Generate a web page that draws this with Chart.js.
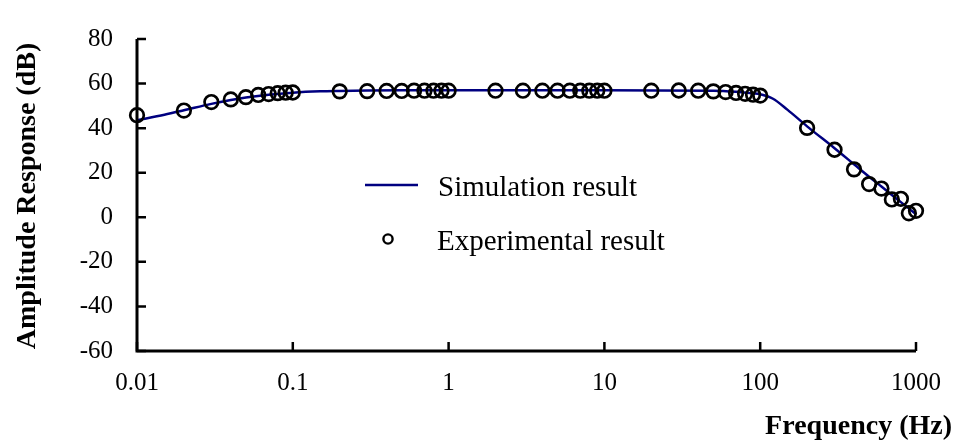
<!DOCTYPE html>
<html>
<head>
<meta charset="utf-8">
<script src="https://cdn.jsdelivr.net/npm/chart.js@4"></script>
<style>
  html, body { margin: 0; padding: 0; background: #ffffff; }
  #wrap { width: 958px; height: 444px; }
</style>
</head>
<body>
<div id="wrap"><canvas id="c" width="958" height="444"></canvas></div>
<script>
// Frequency response of the amplifier: simulated curve and measured points
const simFreq = [0.01, 0.015, 0.02, 0.03, 0.04, 0.05, 0.07, 0.1, 0.15, 0.2, 0.3, 0.5, 1, 10, 50, 70, 90, 100, 120, 150, 200, 300, 400, 500, 600, 700, 800, 900, 1000];
const simDb   = [43.5, 46.0, 48.0, 50.9, 52.6, 53.7, 55.0, 55.9, 56.5, 56.7, 56.9, 57.0, 57.0, 57.0, 56.8, 56.3, 55.6, 55.2, 53.3, 48.2, 40.8, 31.0, 23.8, 18.2, 13.8, 10.0, 6.8, 4.0, 1.3];

const expFreq = [0.01, 0.02, 0.03, 0.04, 0.05, 0.06, 0.07, 0.08, 0.09, 0.1,
                 0.2, 0.3, 0.4, 0.5, 0.6, 0.7, 0.8, 0.9, 1,
                 2, 3, 4, 5, 6, 7, 8, 9, 10,
                 20, 30, 40, 50, 60, 70, 80, 90, 100,
                 200, 300, 400, 500, 600, 700, 800, 900, 1000];
const expDb   = [45.8, 47.9, 51.7, 52.9, 53.9, 54.9, 55.3, 55.7, 55.9, 56.0,
                 56.5, 56.6, 56.7, 56.7, 56.8, 56.8, 56.8, 56.8, 56.8,
                 56.8, 56.8, 56.8, 56.8, 56.8, 56.8, 56.8, 56.8, 56.8,
                 56.8, 56.9, 56.8, 56.5, 56.2, 55.8, 55.4, 55.0, 54.6,
                 40.1, 30.3, 21.5, 14.9, 12.9, 8.0, 8.3, 1.8, 2.9];

const xTickValues = [0.01, 0.1, 1, 10, 100, 1000];
const xTickLabels = ['0.01', '0.1', '1', '10', '100', '1000'];
const yTickValues = [-60, -40, -20, 0, 20, 40, 60, 80];

const seriesNames = ['Simulation result', 'Experimental result'];
const axisTitles = { x: 'Frequency (Hz)', y: 'Amplitude Response (dB)' };

const SERIF = '"Liberation Serif", "Times New Roman", serif';
const LINE_COLOR = '#000080';

// Axis lines with inward tick marks
const axesPlugin = {
  id: 'axesInward',
  afterDatasetsDraw(chart) {
    const { ctx, chartArea: a, scales: { x, y } } = chart;
    ctx.save();
    ctx.strokeStyle = '#000';
    ctx.lineWidth = 3;
    ctx.lineCap = 'butt';
    ctx.beginPath();
    ctx.moveTo(a.left, a.top);
    ctx.lineTo(a.left, a.bottom);
    ctx.lineTo(a.right, a.bottom);
    ctx.stroke();
    ctx.lineWidth = 2.5;
    ctx.beginPath();
    yTickValues.forEach(v => {
      const py = y.getPixelForValue(v);
      ctx.moveTo(a.left, py);
      ctx.lineTo(a.left + 9, py);
    });
    xTickValues.forEach(v => {
      const px = x.getPixelForValue(v);
      ctx.moveTo(px, a.bottom);
      ctx.lineTo(px, a.bottom - 9);
    });
    ctx.stroke();
    ctx.restore();
  }
};

// Axis titles and the in-plot legend
const labelsPlugin = {
  id: 'labelsAndLegend',
  afterDraw(chart) {
    const { ctx } = chart;
    ctx.save();
    ctx.fillStyle = '#000';
    ctx.font = 'bold 28px ' + SERIF;
    ctx.textAlign = 'right';
    ctx.textBaseline = 'alphabetic';
    ctx.fillText(axisTitles.x, 952, 434);

    ctx.translate(35, 196);
    ctx.rotate(-Math.PI / 2);
    ctx.textAlign = 'center';
    ctx.fillText(axisTitles.y, 0, 0);
    ctx.restore();

    ctx.save();
    ctx.font = '29px ' + SERIF;
    ctx.fillStyle = '#000';
    ctx.textAlign = 'left';
    ctx.textBaseline = 'alphabetic';
    ctx.strokeStyle = LINE_COLOR;
    ctx.lineWidth = 2.5;
    ctx.beginPath();
    ctx.moveTo(365, 185);
    ctx.lineTo(418, 185);
    ctx.stroke();
    ctx.fillText(seriesNames[0], 438, 196);

    ctx.strokeStyle = '#000';
    ctx.lineWidth = 2.4;
    ctx.beginPath();
    ctx.arc(388, 239, 4.6, 0, Math.PI * 2);
    ctx.stroke();
    ctx.fillText(seriesNames[1], 437, 250);
    ctx.restore();
  }
};

new Chart(document.getElementById('c'), {
  type: 'line',
  data: {
    datasets: [
      {
        label: seriesNames[0],
        data: simFreq.map((f, i) => ({ x: f, y: simDb[i] })),
        borderColor: LINE_COLOR,
        borderWidth: 2.5,
        pointRadius: 0,
        fill: false,
        cubicInterpolationMode: 'monotone',
        clip: false,
        order: 2
      },
      {
        label: seriesNames[1],
        data: expFreq.map((f, i) => ({ x: f, y: expDb[i] })),
        showLine: false,
        pointStyle: 'circle',
        pointRadius: 6.8,
        pointBorderWidth: 2.7,
        pointBorderColor: '#000',
        pointBackgroundColor: 'rgba(0,0,0,0)',
        clip: false,
        order: 1
      }
    ]
  },
  options: {
    responsive: false,
    animation: false,
    devicePixelRatio: 1,
    layout: { padding: { left: 0, right: 41, top: 24, bottom: 0 } },
    plugins: { legend: { display: false }, tooltip: { enabled: false } },
    scales: {
      x: {
        type: 'logarithmic',
        min: 0.01,
        max: 1000,
        grid: { display: false, drawTicks: false },
        border: { display: false },
        afterBuildTicks(scale) { scale.ticks = xTickValues.map(v => ({ value: v })); },
        afterFit(scale) { scale.height = 93; },
        ticks: {
          autoSkip: false,
          maxRotation: 0,
          padding: 17,
          color: '#000',
          font: { family: SERIF, size: 25 },
          callback(value) {
            const i = xTickValues.indexOf(value);
            return i >= 0 ? xTickLabels[i] : '';
          }
        }
      },
      y: {
        min: -60,
        max: 80,
        grid: { display: false, drawTicks: false },
        border: { display: false },
        afterBuildTicks(scale) { scale.ticks = yTickValues.map(v => ({ value: v })); },
        afterFit(scale) { scale.width = 137; },
        ticks: {
          padding: 24,
          color: '#000',
          font: { family: SERIF, size: 25 }
        }
      }
    }
  },
  plugins: [axesPlugin, labelsPlugin]
});
</script>
</body>
</html>
